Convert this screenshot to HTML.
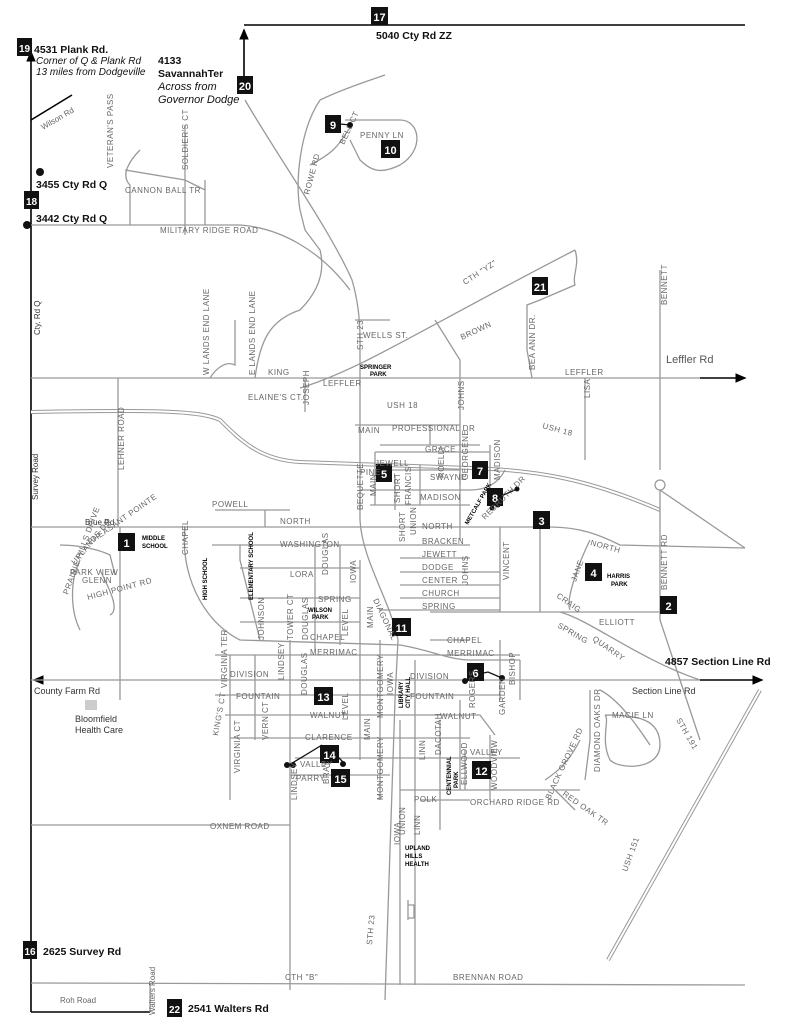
<!DOCTYPE html>
<html><head><meta charset="utf-8"><style>
body{margin:0;background:#fff}
svg{display:block}
.r{fill:none;stroke:#999;stroke-width:1.3}
.rd{fill:none;stroke:#999;stroke-width:4}
.rw{fill:none;stroke:#fff;stroke-width:2}
.b{fill:none;stroke:#000;stroke-width:1.6}
.t{font-family:"Liberation Sans",sans-serif;font-size:8px;fill:#666;letter-spacing:.5px}
.tb{font-family:"Liberation Sans",sans-serif;font-size:10.5px;font-weight:bold;fill:#111}
.ti{font-family:"Liberation Sans",sans-serif;font-size:10px;font-style:italic;fill:#111}
.tk{font-family:"Liberation Sans",sans-serif;font-size:6px;font-weight:bold;fill:#000}
.n{fill:#111}
.nt{font-family:"Liberation Sans",sans-serif;font-size:11px;font-weight:bold;fill:#fff;text-anchor:middle}
</style></head><body>
<svg width="791" height="1024" viewBox="0 0 791 1024">
<defs><marker id="a" markerWidth="8" markerHeight="8" refX="6" refY="4" orient="auto"><path d="M0,1 L7,4 L0,7z" fill="#000"/></marker></defs>
<path class="b" d="M31,1012 V52" marker-end="url(#a)"/>
<path class="b" d="M244,85 V30" marker-end="url(#a)"/>
<path class="b" d="M244,25 H745"/>
<path class="b" d="M31,1012 H150"/>
<path class="b" d="M40,680 H34" marker-end="url(#a)"/>
<path class="b" d="M700,680 H762" marker-end="url(#a)"/>
<path class="b" d="M700,378 H745" marker-end="url(#a)"/>
<path class="b" d="M31,120 L72,95"/>
<g>
<path class="rd" d="M31,412 C150,410 200,410 220,420 C240,440 260,460 300,462 L470,468 C540,470 590,480 660,510"/>
<path class="rd" d="M608,960 L760,690"/>
</g>
<path class="rw" d="M31,412 C150,410 200,410 220,420 C240,440 260,460 300,462 L470,468 C540,470 590,480 660,510"/>
<path class="rw" d="M608,960 L760,690"/>
<g class="r">
<path d="M660,490 L745,548"/>
<path d="M31,225 H240 C280,228 320,250 350,290"/>
<path d="M245,100 C280,160 330,230 352,280 C358,300 360,320 360,340 V520 C362,560 390,600 398,640 L395,700 L385,1000"/>
<path d="M31,378 H700"/>
<path d="M31,527 H550 C580,527 600,535 620,545 L745,548"/>
<path d="M31,680 H700"/>
<path d="M31,825 H290"/>
<path d="M31,983 L745,985"/>
<path d="M150,983 V1012"/>
<path d="M660,270 V470 M660,490 V620 L700,740"/>
<path d="M655,485 a5,5 0 1,0 10,0 a5,5 0 1,0 -10,0"/>
<path d="M300,388 C360,370 420,330 575,250"/>
<path d="M575,250 C580,265 572,275 575,285 L540,300 L527,305 V350 L532,378"/>
<path d="M435,320 L460,360 V540"/>
<path d="M118,378 V527 M120,527 V700"/>
<path d="M205,225 V180 M185,235 V125 M130,225 V185 C120,175 130,160 140,150 M125,170 L185,180 L205,190"/>
<path d="M300,210 C295,180 300,130 320,100 M320,100 C340,90 370,80 385,75 M310,165 C340,150 340,140 350,128 M345,120 H400 C420,120 425,150 400,165 C380,175 370,170 360,160 L350,140"/>
<path d="M300,210 L305,230 L320,250 C325,270 320,290 300,310 C270,320 260,340 255,378 M210,378 C215,370 225,360 235,365 V320"/>
<path d="M305,378 V412 M355,320 L390,320"/>
<path d="M585,378 V460"/>
<path d="M355,425 H460 M380,445 H480 M430,425 V445 M375,452 H490 M385,470 H460 M360,490 H470 C490,490 500,480 505,470 M370,505 H470 M360,490 V510 M375,452 V505 M395,475 V510 M420,465 V505 M460,440 V485 M490,445 V490"/>
<path d="M215,510 H290 M265,510 V527 M212,545 H430 M400,545 H470 M400,558 H470 M400,572 H500 M400,585 H500 M400,598 H500 M380,610 H500 M240,568 H360 M240,598 H360 M240,622 H360 M430,612 H660 M500,527 V612 M540,527 V612 M560,612 C590,620 640,660 700,680"/>
<path d="M185,527 C180,570 200,620 240,640 L400,645 C430,650 450,660 470,660 L520,660 M430,640 H470 M215,655 H520 M215,695 H500 M225,715 H480 L495,735 M230,738 H470 M295,758 H520 M290,775 H390 M400,790 H580 M420,800 H470"/>
<path d="M240,545 V560 C245,580 250,600 260,640 M230,655 V800 M255,655 V740 M290,640 V990 M315,545 V650 M340,545 V645 M360,560 V760 M380,640 V800 M400,720 V985 M415,660 V985 M440,720 V830 M460,700 V790 M465,750 V790 M500,640 V700 M520,660 V700 M490,735 V800"/>
<path d="M590,690 V740 L585,780 M600,690 C620,700 640,730 650,745 M605,715 C640,715 660,720 660,745 C660,770 620,770 610,760 C600,740 610,720 605,715"/>
<path d="M545,780 C560,770 570,760 580,740 M555,790 L575,810 M570,610 C565,600 580,560 590,540"/>
<path d="M60,545 C80,545 100,550 110,555 L115,575 M80,560 C70,580 70,610 80,630 M100,570 C110,590 120,610 110,615"/>
<path d="M408,900 V920 M408,905 H414 V918 H408"/>
</g>
<rect x="85" y="700" width="12" height="10" fill="#ccc"/>
<g stroke="#111" stroke-width="1.3" fill="none"><path d="M340,124 L350,125 M499,497 L517,489 M492,505 L498,500 M470,676 L488,672 L502,678 M289,765 L322,745 M333,752 L343,762"/></g>
<g class="n"><circle cx="40" cy="172" r="4"/><circle cx="27" cy="225" r="4"/><circle cx="350" cy="125" r="3"/><circle cx="517" cy="489" r="2.5"/><circle cx="492" cy="508" r="2.5"/><circle cx="498" cy="505" r="2.5"/><circle cx="465" cy="681" r="3"/><circle cx="502" cy="678" r="3"/><circle cx="287" cy="765" r="3"/><circle cx="293" cy="765" r="3"/><circle cx="343" cy="764" r="3"/></g>
<g>
<rect class="n" x="118" y="533" width="17" height="18"/><text class="nt" x="126.5" y="547">1</text>
<rect class="n" x="660" y="596" width="17" height="18"/><text class="nt" x="668.5" y="610">2</text>
<rect class="n" x="533" y="511" width="17" height="18"/><text class="nt" x="541.5" y="525">3</text>
<rect class="n" x="585" y="563" width="17" height="18"/><text class="nt" x="593.5" y="577">4</text>
<rect class="n" x="376" y="464" width="16" height="18"/><text class="nt" x="384" y="478">5</text>
<rect class="n" x="467" y="663" width="17" height="18"/><text class="nt" x="475.5" y="677">6</text>
<rect class="n" x="472" y="461" width="16" height="18"/><text class="nt" x="480" y="475">7</text>
<rect class="n" x="487" y="488" width="16" height="18"/><text class="nt" x="495" y="502">8</text>
<rect class="n" x="325" y="115" width="16" height="18"/><text class="nt" x="333" y="129">9</text>
<rect class="n" x="381" y="140" width="19" height="18"/><text class="nt" x="390.5" y="154">10</text>
<rect class="n" x="392" y="618" width="19" height="18"/><text class="nt" x="401.5" y="632">11</text>
<rect class="n" x="472" y="761" width="19" height="18"/><text class="nt" x="481.5" y="775">12</text>
<rect class="n" x="314" y="687" width="19" height="18"/><text class="nt" x="323.5" y="701">13</text>
<rect class="n" x="320" y="745" width="19" height="18"/><text class="nt" x="329.5" y="759">14</text>
<rect class="n" x="331" y="769" width="19" height="18"/><text class="nt" x="340.5" y="783">15</text>
<rect class="n" x="23" y="941" width="14" height="18"/><text class="nt" x="30" y="955" style="font-size:10px">16</text>
<rect class="n" x="371" y="7" width="17" height="18"/><text class="nt" x="379.5" y="21">17</text>
<rect class="n" x="24" y="191" width="15" height="18"/><text class="nt" x="31.5" y="205" style="font-size:10px">18</text>
<rect class="n" x="17" y="38" width="15" height="18"/><text class="nt" x="24.5" y="52" style="font-size:10px">19</text>
<rect class="n" x="237" y="76" width="16" height="18"/><text class="nt" x="245" y="90">20</text>
<rect class="n" x="532" y="277" width="16" height="18"/><text class="nt" x="540" y="291">21</text>
<rect class="n" x="167" y="999" width="15" height="18"/><text class="nt" x="174.5" y="1013" style="font-size:10px">22</text>
</g>
<text class="tb" x="34" y="53">4531 Plank Rd.</text>
<text class="ti" x="36" y="64">Corner of Q &amp; Plank Rd</text>
<text class="ti" x="36" y="75">13 miles from Dodgeville</text>
<text class="tb" x="158" y="64">4133</text>
<text class="tb" x="158" y="77">SavannahTer</text>
<text class="ti" x="158" y="90" style="font-size:11px">Across from</text>
<text class="ti" x="158" y="103" style="font-size:11px">Governor Dodge</text>
<text class="tb" x="376" y="39">5040 Cty Rd ZZ</text>
<text class="tb" x="36" y="188">3455 Cty Rd Q</text>
<text class="tb" x="36" y="222">3442 Cty Rd Q</text>
<text class="tb" x="666" y="363" style="font-weight:normal;fill:#555;font-size:11px">Leffler Rd</text>
<text class="tb" x="665" y="665">4857 Section Line Rd</text>
<text class="tb" x="43" y="955">2625 Survey Rd</text>
<text class="tb" x="188" y="1012">2541 Walters Rd</text>
<text class="t" x="34" y="694" style="fill:#333;font-size:9px;letter-spacing:0">County Farm Rd</text>
<text class="t" x="632" y="694" style="fill:#333;font-size:9px;letter-spacing:0">Section Line Rd</text>
<text class="t" x="75" y="722" style="fill:#333;font-size:9px;letter-spacing:0">Bloomfield</text>
<text class="t" x="75" y="733" style="fill:#333;font-size:9px;letter-spacing:0">Health Care</text>
<text class="t" x="85" y="525" style="fill:#333;letter-spacing:0">Brue Rd</text>
<text class="t" x="60" y="1003" style="letter-spacing:0">Roh Road</text>
<text class="t" transform="translate(40,335) rotate(-90)" style="fill:#333;letter-spacing:0">Cty. Rd Q</text>
<text class="t" transform="translate(38,500) rotate(-90)" style="fill:#333;letter-spacing:0">Survey Road</text>
<text class="t" transform="translate(43,130) rotate(-30)" style="letter-spacing:0">Wilson Rd</text>
<text class="t" transform="translate(113,168) rotate(-90)">VETERAN'S PASS</text>
<text class="t" transform="translate(188,170) rotate(-90)">SOLDIER'S CT</text>
<text class="t" x="125" y="193">CANNON BALL TR</text>
<text class="t" x="160" y="233">MILITARY RIDGE ROAD</text>
<text class="t" transform="translate(309,195) rotate(-75)">ROWE RD</text>
<text class="t" transform="translate(344,145) rotate(-65)">BELL CT</text>
<text class="t" x="360" y="138">PENNY LN</text>
<text class="t" transform="translate(209,375) rotate(-90)">W LANDS END LANE</text>
<text class="t" transform="translate(255,375) rotate(-90)">E LANDS END LANE</text>
<text class="t" transform="translate(363,350) rotate(-90)">STH 23</text>
<text class="t" x="363" y="338">WELLS ST.</text>
<text class="t" transform="translate(465,285) rotate(-33)">CTH "YZ"</text>
<text class="t" transform="translate(462,340) rotate(-25)">BROWN</text>
<text class="t" transform="translate(535,370) rotate(-90)">BEA ANN DR.</text>
<text class="t" transform="translate(667,305) rotate(-90)">BENNETT</text>
<text class="t" transform="translate(667,590) rotate(-90)">BENNETT RD</text>
<text class="t" x="268" y="375">KING</text>
<text class="t" x="323" y="386">LEFFLER</text>
<text class="t" x="565" y="375">LEFFLER</text>
<text class="tk" x="360" y="369">SPRINGER</text><text class="tk" x="370" y="376">PARK</text>
<text class="t" x="248" y="400">ELAINE'S CT.</text>
<text class="t" transform="translate(309,405) rotate(-90)">JOSEPH</text>
<text class="t" transform="translate(464,410) rotate(-90)">JOHNS</text>
<text class="t" transform="translate(590,398) rotate(-90)">LISA</text>
<text class="t" x="387" y="408">USH 18</text>
<text class="t" transform="translate(542,428) rotate(15)">USH 18</text>
<text class="t" transform="translate(124,470) rotate(-90)">LEHNER ROAD</text>
<text class="t" x="358" y="433">MAIN</text>
<text class="t" x="392" y="431">PROFESSIONAL DR</text>
<text class="t" x="425" y="452">GRACE</text>
<text class="t" x="375" y="466">JEWELL</text>
<text class="t" x="360" y="475">PINE</text>
<text class="t" transform="translate(363,510) rotate(-90)">BEQUETTE</text>
<text class="t" transform="translate(376,496) rotate(-90)">MAIN</text>
<text class="t" transform="translate(400,503) rotate(-90)">SHORT</text>
<text class="t" transform="translate(411,505) rotate(-90)">FRANCIS</text>
<text class="t" transform="translate(444,478) rotate(-90)">ROELLI</text>
<text class="t" transform="translate(468,480) rotate(-90)">GEORGENE</text>
<text class="t" transform="translate(500,480) rotate(-90)">MADISON</text>
<text class="t" x="430" y="480">SWAYNE</text>
<text class="t" x="420" y="500">MADISON</text>
<text class="tk" transform="translate(468,525) rotate(-60)">METCALF PARK</text>
<text class="t" transform="translate(485,520) rotate(-45)">REDRUTH DR</text>
<text class="t" x="212" y="507">POWELL</text>
<text class="t" x="280" y="524">NORTH</text>
<text class="t" x="422" y="529">NORTH</text>
<text class="t" transform="translate(590,545) rotate(15)">NORTH</text>
<text class="tk" x="142" y="540">MIDDLE</text><text class="tk" x="142" y="548">SCHOOL</text>
<text class="t" transform="translate(188,555) rotate(-90)">CHAPEL</text>
<text class="t" x="280" y="547">WASHINGTON</text>
<text class="t" x="422" y="544">BRACKEN</text>
<text class="t" x="422" y="557">JEWETT</text>
<text class="t" x="422" y="570">DODGE</text>
<text class="t" x="422" y="583">CENTER</text>
<text class="t" x="422" y="596">CHURCH</text>
<text class="t" x="422" y="609">SPRING</text>
<text class="t" transform="translate(405,542) rotate(-90)">SHORT</text>
<text class="t" transform="translate(416,535) rotate(-90)">UNION</text>
<text class="t" transform="translate(468,585) rotate(-90)">JOHNS</text>
<text class="t" transform="translate(509,580) rotate(-90)">VINCENT</text>
<text class="t" transform="translate(328,575) rotate(-90)">DOUGLAS</text>
<text class="t" x="290" y="577">LORA</text>
<text class="tk" transform="translate(207,600) rotate(-90)">HIGH SCHOOL</text>
<text class="tk" transform="translate(253,600) rotate(-90)">ELEMENTARY SCHOOL</text>
<text class="t" x="318" y="602">SPRING</text>
<text class="tk" x="308" y="612">WILSON</text><text class="tk" x="312" y="619">PARK</text>
<text class="t" transform="translate(264,640) rotate(-90)">JOHNSON</text>
<text class="t" transform="translate(293,640) rotate(-90)">TOWER CT</text>
<text class="t" transform="translate(308,640) rotate(-90)">DOUGLAS</text>
<text class="t" transform="translate(348,636) rotate(-90)">LEVEL</text>
<text class="t" transform="translate(373,628) rotate(-90)">MAIN</text>
<text class="t" transform="translate(356,583) rotate(-90)">IOWA</text>
<text class="t" transform="translate(373,600) rotate(65)">DIAGONAL</text>
<text class="t" x="310" y="640">CHAPEL</text>
<text class="t" x="310" y="655">MERRIMAC</text>
<text class="t" x="447" y="643">CHAPEL</text>
<text class="t" x="447" y="656">MERRIMAC</text>
<text class="t" transform="translate(557,627) rotate(30)">SPRING</text>
<text class="t" transform="translate(592,640) rotate(35)">QUARRY</text>
<text class="t" x="599" y="625">ELLIOTT</text>
<text class="t" transform="translate(576,582) rotate(-70)">JANE</text>
<text class="t" transform="translate(556,597) rotate(35)">CRAIG</text>
<text class="tk" x="607" y="578">HARRIS</text><text class="tk" x="611" y="586">PARK</text>
<text class="t" transform="translate(227,688) rotate(-90)">VIRGINIA TER</text>
<text class="t" x="230" y="677">DIVISION</text>
<text class="t" transform="translate(284,680) rotate(-90)">LINDSEY</text>
<text class="t" transform="translate(307,695) rotate(-90)">DOUGLAS</text>
<text class="t" x="236" y="699">FOUNTAIN</text>
<text class="t" x="310" y="718">WALNUT</text>
<text class="t" transform="translate(348,720) rotate(-90)">LEVEL</text>
<text class="t" transform="translate(383,718) rotate(-90)">MONTGOMERY</text>
<text class="t" transform="translate(393,695) rotate(-90)">IOWA</text>
<text class="tk" transform="translate(403,708) rotate(-90)">LIBRARY</text>
<text class="tk" transform="translate(410,708) rotate(-90)">CITY HALL</text>
<text class="t" x="410" y="679">DIVISION</text>
<text class="t" x="410" y="699">FOUNTAIN</text>
<text class="t" x="440" y="719">WALNUT</text>
<text class="t" transform="translate(475,708) rotate(-90)">ROGERS</text>
<text class="t" transform="translate(505,715) rotate(-90)">GARDEN</text>
<text class="t" transform="translate(515,685) rotate(-90)">BISHOP</text>
<text class="t" transform="translate(218,736) rotate(-80)">KING'S CT</text>
<text class="t" transform="translate(240,773) rotate(-90)">VIRGINIA CT</text>
<text class="t" transform="translate(268,740) rotate(-90)">VERN CT</text>
<text class="t" x="305" y="740">CLARENCE</text>
<text class="t" transform="translate(370,740) rotate(-90)">MAIN</text>
<text class="t" x="300" y="767">VALLEY</text>
<text class="t" x="296" y="781">PARRY</text>
<text class="t" transform="translate(329,784) rotate(-90)">BRAY</text>
<text class="t" transform="translate(297,800) rotate(-90)">LINDSEY</text>
<text class="t" transform="translate(383,800) rotate(-90)">MONTGOMERY</text>
<text class="t" transform="translate(425,760) rotate(-90)">LINN</text>
<text class="t" transform="translate(441,755) rotate(-90)">DACOTAH</text>
<text class="t" x="470" y="755">VALLEY</text>
<text class="tk" transform="translate(451,795) rotate(-90)">CENTENNIAL</text>
<text class="tk" transform="translate(458,788) rotate(-90)">PARK</text>
<text class="t" transform="translate(467,785) rotate(-90)">ELLWOOD</text>
<text class="t" transform="translate(497,790) rotate(-90)">WOODVIEW</text>
<text class="t" x="414" y="802">POLK</text>
<text class="t" x="470" y="805">ORCHARD RIDGE RD</text>
<text class="t" transform="translate(550,800) rotate(-65)">BLACK GROVE RD</text>
<text class="t" transform="translate(562,795) rotate(35)">RED OAK TR</text>
<text class="t" transform="translate(600,772) rotate(-90)">DIAMOND OAKS DR</text>
<text class="t" x="612" y="718">MACIE LN</text>
<text class="t" transform="translate(676,720) rotate(60)">STH 191</text>
<text class="t" transform="translate(627,872) rotate(-70)">USH 151</text>
<text class="t" x="210" y="829">OXNEM ROAD</text>
<text class="t" transform="translate(400,845) rotate(-90)">IOWA</text>
<text class="t" transform="translate(405,835) rotate(-90)">UNION</text>
<text class="t" transform="translate(420,835) rotate(-90)">LINN</text>
<text class="tk" x="405" y="850">UPLAND</text><text class="tk" x="405" y="858">HILLS</text><text class="tk" x="405" y="866">HEALTH</text>
<text class="t" transform="translate(372,945) rotate(-85)">STH 23</text>
<text class="t" x="285" y="980">CTH "B"</text>
<text class="t" x="453" y="980">BRENNAN ROAD</text>
<text class="t" transform="translate(155,1015) rotate(-90)" style="letter-spacing:0">Walters Road</text>
<text class="t" transform="translate(68,595) rotate(-70)">PRAIRIE HILLS DRIVE</text>
<text class="t" transform="translate(75,565) rotate(-50)">UPLANDS DR</text>
<text class="t" x="70" y="575">PARK VIEW</text>
<text class="t" x="82" y="583">GLENN</text>
<text class="t" transform="translate(88,600) rotate(-15)">HIGH POINT RD</text>
<text class="t" transform="translate(90,545) rotate(-35)">PHEASANT POINTE</text>
</svg>
</body></html>
